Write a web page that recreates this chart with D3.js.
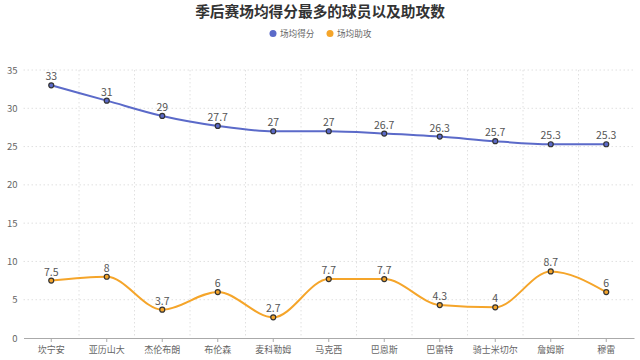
<!DOCTYPE html>
<html lang="zh">
<head>
  <meta charset="UTF-8">
  <title>季后赛场均得分最多的球员以及助攻数</title>
  <script src="https://d3js.org/d3.v7.min.js"></script>
  <style>
    html, body { margin: 0; background: #fff; }
    svg { display: block; }
    text { font-family: "Noto Sans CJK SC", "Noto Sans", sans-serif; }
    .grid line { stroke: #e0e0e0; stroke-dasharray: 1.5 2.5; }
  </style>
</head>
<body>
  <svg width="640" height="360"></svg>
  <script>
    // data
    const players = ["坎宁安", "亚历山大", "杰伦布朗", "布伦森", "麦科勒姆", "马克西", "巴恩斯", "巴雷特", "骑士米切尔", "詹姆斯", "穆雷"];
    const points = [33, 31, 29, 27.7, 27, 27, 26.7, 26.3, 25.7, 25.3, 25.3];
    const assists = [7.5, 8, 3.7, 6, 2.7, 7.7, 7.7, 4.3, 4, 8.7, 6];
    const seriesNames = ["场均得分", "场均助攻"];
    const colors = ["#5b6ac9", "#f5a52a"];

    const svg = d3.select("svg");
    const plotLeft = 23.5, plotRight = 634, plotTop = 70, plotBottom = 338;

    const x = d3.scaleBand().domain(players).range([plotLeft, plotRight]);
    const y = d3.scaleLinear().domain([0, 35]).range([plotBottom, plotTop]);
    const cx = d => x(d) + x.bandwidth() / 2;

    // horizontal grid
    svg.append("g").attr("class", "grid")
      .selectAll("line")
      .data(y.ticks(7).filter(t => t > 0))
      .enter().append("line")
      .attr("x1", plotLeft).attr("x2", plotRight)
      .attr("y1", d => y(d)).attr("y2", d => y(d));

    // vertical grid at band boundaries
    svg.append("g").attr("class", "grid")
      .selectAll("line")
      .data(players.slice(1))
      .enter().append("line")
      .attr("x1", d => x(d)).attr("x2", d => x(d))
      .attr("y1", plotTop).attr("y2", plotBottom);

    // y axis labels
    const yAxis = svg.append("g")
      .attr("transform", `translate(${plotLeft},0)`)
      .call(d3.axisLeft(y).ticks(7).tickSize(0).tickPadding(6));
    yAxis.select(".domain").remove();
    yAxis.selectAll("text").attr("fill", "#666").attr("font-size", 9.5);

    // x axis
    const xAxis = svg.append("g")
      .attr("transform", `translate(0,${plotBottom})`)
      .call(d3.axisBottom(x).tickSize(4).tickPadding(5).tickSizeOuter(0));
    xAxis.select(".domain").attr("stroke", "#aaa");
    xAxis.selectAll(".tick line").attr("stroke", "#aaa");
    xAxis.selectAll("text").attr("fill", "#666").attr("font-size", 9);

    const line = d3.line()
      .x((d, i) => cx(players[i]))
      .y(d => y(d))
      .curve(d3.curveMonotoneX);

    [points, assists].forEach((vals, k) => {
      const g = svg.append("g");
      g.append("path")
        .datum(vals)
        .attr("d", line)
        .attr("fill", "none")
        .attr("stroke", colors[k])
        .attr("stroke-width", 2);

      g.selectAll("circle")
        .data(vals)
        .enter().append("circle")
        .attr("cx", (d, i) => cx(players[i]))
        .attr("cy", d => y(d))
        .attr("r", 2.5)
        .attr("fill", colors[k])
        .attr("stroke", "#333")
        .attr("stroke-width", 1.2);

      g.selectAll("text")
        .data(vals)
        .enter().append("text")
        .attr("x", (d, i) => cx(players[i]))
        .attr("y", d => y(d) - 5)
        .attr("text-anchor", "middle")
        .attr("font-size", 10.5)
        .attr("fill", "#555")
        .text(d => d);
    });

    // title
    svg.append("text")
      .attr("x", 320).attr("y", 17)
      .attr("text-anchor", "middle")
      .attr("font-size", 14.7)
      .attr("font-weight", "bold")
      .attr("fill", "#333")
      .text("季后赛场均得分最多的球员以及助攻数");

    // legend
    const legend = svg.append("g")
      .selectAll("g")
      .data(seriesNames)
      .enter().append("g")
      .attr("transform", (d, i) => `translate(${273 + i * 57},33.5)`);
    legend.append("circle").attr("r", 3.5).attr("fill", (d, i) => colors[i]);
    legend.append("text")
      .attr("x", 7).attr("y", 3.2)
      .attr("font-size", 8.6)
      .attr("fill", "#666")
      .text(d => d);
  </script>
</body>
</html>
